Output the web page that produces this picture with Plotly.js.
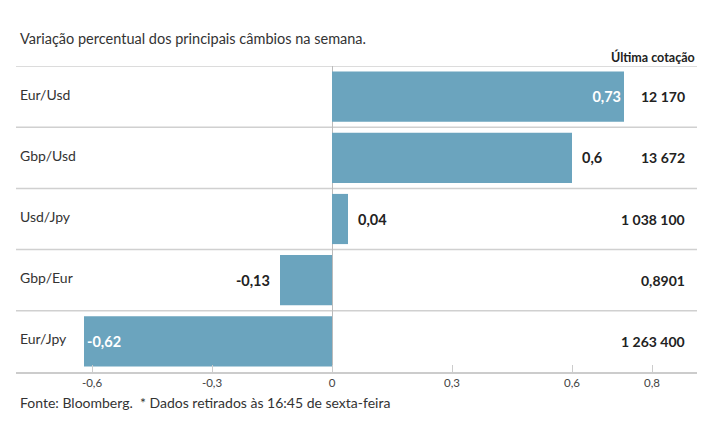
<!DOCTYPE html>
<html><head><meta charset="utf-8">
<script src="https://cdn.plot.ly/plotly-3.0.1.min.js"></script>
<style>body{margin:0;background:#fff}#c{width:715px;height:445px}</style>
</head><body><div id="c"></div>
<script>
const categories = ['Eur/Usd','Gbp/Usd','Usd/Jpy','Gbp/Eur','Eur/Jpy'];
const changes = [0.73, 0.6, 0.04, -0.13, -0.62];
const quotes = ['12 170','13 672','1 038 100','0,8901','1 263 400'];
const tickVals = [-0.6,-0.3,0,0.3,0.6,0.8];
const tickText = ['-0,6','-0,3','0','0,3','0,6','0,8'];
const labelPos = ['inside','outside','outside','outside','inside'];

const FONT = 'Lato, Open Sans, sans-serif';
const fmt = v => String(v).replace('.', ',');
const label = (v,i) => labelPos[i]==='outside' ? (v>=0 ? '  '+fmt(v) : fmt(v)+'  ') : fmt(v);

const trace = {
  type:'bar', orientation:'h',
  x: changes, y: categories,
  marker:{color:'#6ba4be'},
  text: changes.map(label),
  textposition: labelPos,
  insidetextanchor:'end',
  cliponaxis:false,
  insidetextfont:{color:'#ffffff', size:14.5, family:FONT, weight:700},
  outsidetextfont:{color:'#222222', size:14.5, family:FONT, weight:700},
  width:0.82,
  hoverinfo:'none'
};

const shapes = [];
for (let i=0;i<categories.length;i++){
  shapes.push({type:'line', xref:'paper', x0:0, x1:1, yref:'y', y0:i-0.5, y1:i-0.5,
    line:{color:'#d0d0d0', width:1.5}, layer:'below'});
}

const annotations = [];
categories.forEach((c,i)=>{
  annotations.push({xref:'paper', x:0.003, xanchor:'left', yref:'y', y:i-0.04, yanchor:'middle',
    text:c, showarrow:false, font:{family:FONT, size:14, color:'#333'}});
  annotations.push({xref:'paper', x:0.985, xanchor:'right', yref:'y', y:c, yanchor:'middle',
    text:quotes[i], showarrow:false, font:{family:FONT, size:14, color:'#222', weight:700}});
});
annotations.push({xref:'paper', x:1, xanchor:'right', yref:'paper', y:1.03, yanchor:'middle',
  text:'Última cotação', showarrow:false, font:{family:FONT, size:12.5, color:'#222', weight:700}});
annotations.push({xref:'paper', x:0.003, xanchor:'left', yref:'paper', y:1.09, yanchor:'middle',
  text:'Variação percentual dos principais câmbios na semana.', showarrow:false,
  font:{family:FONT, size:14.5, color:'#333'}});
annotations.push({xref:'paper', x:0.003, xanchor:'left', yref:'paper', y:-0.1, yanchor:'middle',
  text:'Fonte: Bloomberg.  * Dados retirados às 16:45 de sexta-feira', showarrow:false,
  font:{family:FONT, size:14, color:'#333'}});

const layout = {
  width:715, height:445,
  margin:{l:16, r:18, t:66, b:73},
  paper_bgcolor:'#fff', plot_bgcolor:'#fff',
  showlegend:false,
  xaxis:{range:[-0.79,0.9125], tickvals:tickVals, ticktext:tickText,
    showgrid:false, zeroline:true, zerolinecolor:'#bbbbbb', zerolinewidth:1,
    showline:true, linecolor:'#cccccc', linewidth:1.5,
    ticks:'inside', ticklen:7, tickcolor:'#cccccc',
    tickfont:{family:FONT, size:11.5, color:'#444'}, fixedrange:true},
  yaxis:{range:[4.5,-0.5], showticklabels:false, showgrid:false, zeroline:false, ticks:'', fixedrange:true},
  shapes: shapes,
  annotations: annotations,
  font:{family:FONT}
};

Plotly.newPlot('c',[trace],layout,{displayModeBar:false, staticPlot:true});
</script></body></html>
